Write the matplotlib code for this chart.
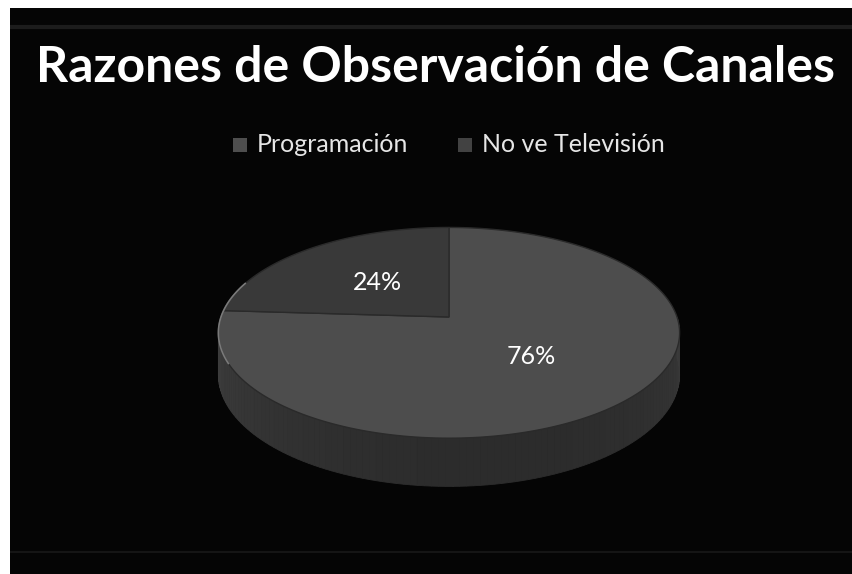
import numpy as np
import matplotlib
matplotlib.use("Agg")
import matplotlib.pyplot as plt
from matplotlib.patches import Polygon, Rectangle

# data
labels = ["Programación", "No ve Televisión"]
values = [76, 24]
title = "Razones de Observación de Canales"

top_colors = ["#4d4d4d", "#393939"]
legend_colors = ["#4e4e4e", "#424242"]

fig = plt.figure(figsize=(8.52, 5.74), dpi=100)
fig.patch.set_facecolor("white")
ax = fig.add_axes([0, 0, 1, 1])
ax.set_xlim(0, 852)
ax.set_ylim(574, 0)
ax.axis("off")

# black panel
ax.add_patch(Rectangle((10, 8), 842, 566, facecolor="#050505", edgecolor="none"))
ax.plot([10, 852], [27, 27], color="#1c1c1c", lw=3, solid_capstyle="butt")
ax.plot([10, 852], [552, 552], color="#151515", lw=1.5, solid_capstyle="butt")

# simple perspective for the pie disk
cx, cy, rx, ry, k, depth = 449, 317, 228, 103, 0.15, 41


def proj(u, v, z=0.0):
    f = 1.0 / (1.0 + k * v)
    return cx + rx * u * f, cy - ry * v * f + depth * z * f


# side wall (front half)
ts = np.linspace(np.pi, 2 * np.pi, 120)
for i in range(len(ts) - 1):
    a, b = ts[i], ts[i + 1]
    p = [proj(np.cos(a), np.sin(a)), proj(np.cos(b), np.sin(b)),
         proj(np.cos(b), np.sin(b), 1), proj(np.cos(a), np.sin(a), 1)]
    frac = (a - np.pi) / np.pi
    g = 0.25 - 0.09 * np.sin(frac * np.pi * 0.85) + 0.02 * frac
    ax.add_patch(Polygon(p, closed=True, facecolor=(g, g, g), edgecolor=(g, g, g), lw=0.6))

# top face wedges (start at 12 o'clock, clockwise)
start = 90.0
tot = sum(values)
mids = []
for val, col in zip(values, top_colors):
    sweep = 360.0 * val / tot
    ang = np.radians(np.linspace(start, start - sweep, 200))
    pts = [proj(0, 0)] + [proj(np.cos(t), np.sin(t)) for t in ang]
    ax.add_patch(Polygon(pts, closed=True, facecolor=col, edgecolor="#2a2a2a", lw=1.0))
    mids.append(np.radians(start - sweep / 2))
    start -= sweep

# rim highlight on the left
ang = np.radians(np.linspace(160, 205, 60))
rim = np.array([proj(np.cos(t), np.sin(t)) for t in ang])
ax.plot(rim[:, 0], rim[:, 1], color="#7a7a7a", lw=1.2)

# percentage labels
for val, m, r in zip(values, mids, [0.5, 0.48]):
    x, y = proj(r * np.cos(m), r * np.sin(m))
    ax.text(x, y, f"{val}%", color="white", fontsize=18, family="Lato",
            ha="center", va="center")

# title
ax.text(435, 68, title, color="white", fontsize=36, fontweight="bold",
        family="Lato", ha="center", va="center")

# legend
lx = [233, 458]
for x0, lab, col in zip(lx, labels, legend_colors):
    ax.add_patch(Rectangle((x0, 138), 14, 14, facecolor=col, edgecolor="none"))
    ax.text(x0 + 24, 145, lab, color="#e6e6e6", fontsize=18, family="Lato",
            ha="left", va="center")

fig.savefig("out.png", dpi=100, facecolor=fig.get_facecolor())
